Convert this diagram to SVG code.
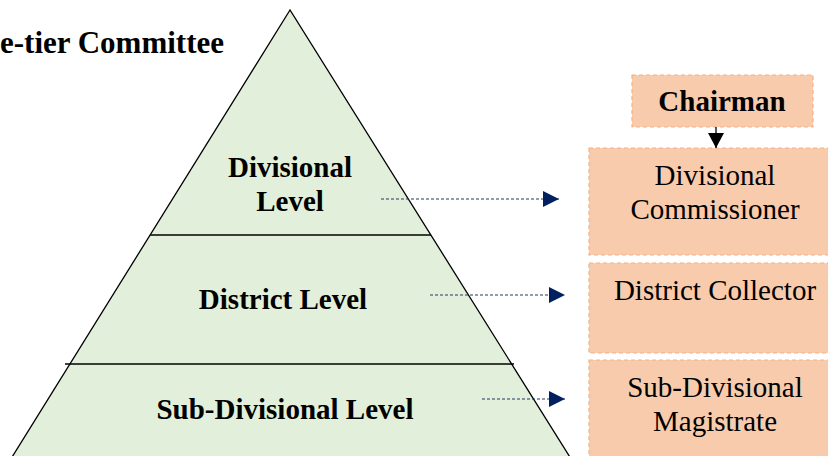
<svg xmlns="http://www.w3.org/2000/svg" width="828" height="456" viewBox="0 0 828 456">
<style>
.b{font-family:"Liberation Serif","Times New Roman",serif;font-weight:bold;font-size:29px;fill:#000;text-anchor:middle}
.r{font-family:"Liberation Serif","Times New Roman",serif;font-size:29px;fill:#000;text-anchor:middle}
.box{fill:#F8CBAD;stroke:#F4B183;stroke-width:1.2;stroke-dasharray:4 3}
.dot{stroke:#203864;stroke-width:1;stroke-dasharray:3 2;fill:none}
</style>
<defs>
<marker id="nav" markerWidth="16" markerHeight="16" refX="16" refY="8" orient="auto" markerUnits="userSpaceOnUse">
<path d="M0,0 L16,8 L0,16 Z" fill="#002060"/>
</marker>
<marker id="blk" markerWidth="16" markerHeight="16" refX="15" refY="8" orient="auto" markerUnits="userSpaceOnUse">
<path d="M0,0 L15,8 L0,16 Z" fill="#000"/>
</marker>
</defs>
<rect width="828" height="456" fill="#fff"/>
<text x="0" y="53" font-family="'Liberation Serif','Times New Roman',serif" font-weight="bold" font-size="31" fill="#000">e-tier Committee</text>
<g id="pyramid">
<polygon points="290,10 4,470 578,470" fill="#E2EFDA" stroke="#000" stroke-width="1.3"/>
<line x1="150" y1="235" x2="431" y2="235" stroke="#000" stroke-width="1.3"/>
<line x1="65" y1="364" x2="514" y2="364" stroke="#000" stroke-width="1.3"/>
</g>
<g id="divisional-level">
<text class="b" x="290" y="177">Divisional</text>
<text class="b" x="290" y="211">Level</text>
</g>
<g id="district-level">
<text class="b" x="283" y="309">District Level</text>
</g>
<g id="subdivisional-level">
<text class="b" x="285" y="419">Sub-Divisional Level</text>
</g>
<g id="chairman">
<rect class="box" x="632" y="75" width="181" height="52"/>
<text class="b" x="722" y="111">Chairman</text>
</g>
<g id="divisional-commissioner">
<rect class="box" x="589" y="148" width="245" height="107"/>
<text class="r" x="715" y="185">Divisional</text>
<text class="r" x="715" y="219">Commissioner</text>
</g>
<g id="district-collector">
<rect class="box" x="589" y="263" width="245" height="90"/>
<text class="r" x="715" y="300">District Collector</text>
</g>
<g id="sub-divisional-magistrate">
<rect class="box" x="589" y="360" width="245" height="110"/>
<text class="r" x="715" y="397">Sub-Divisional</text>
<text class="r" x="715" y="431">Magistrate</text>
</g>
<g id="connectors">
<line x1="716" y1="127" x2="716" y2="148" stroke="#000" stroke-width="1.3" marker-end="url(#blk)"/>
<line class="dot" x1="381" y1="199" x2="559" y2="199" marker-end="url(#nav)"/>
<line class="dot" x1="430" y1="295" x2="565" y2="295" marker-end="url(#nav)"/>
<line class="dot" x1="482" y1="399" x2="565" y2="399" marker-end="url(#nav)"/>
</g>
</svg>
